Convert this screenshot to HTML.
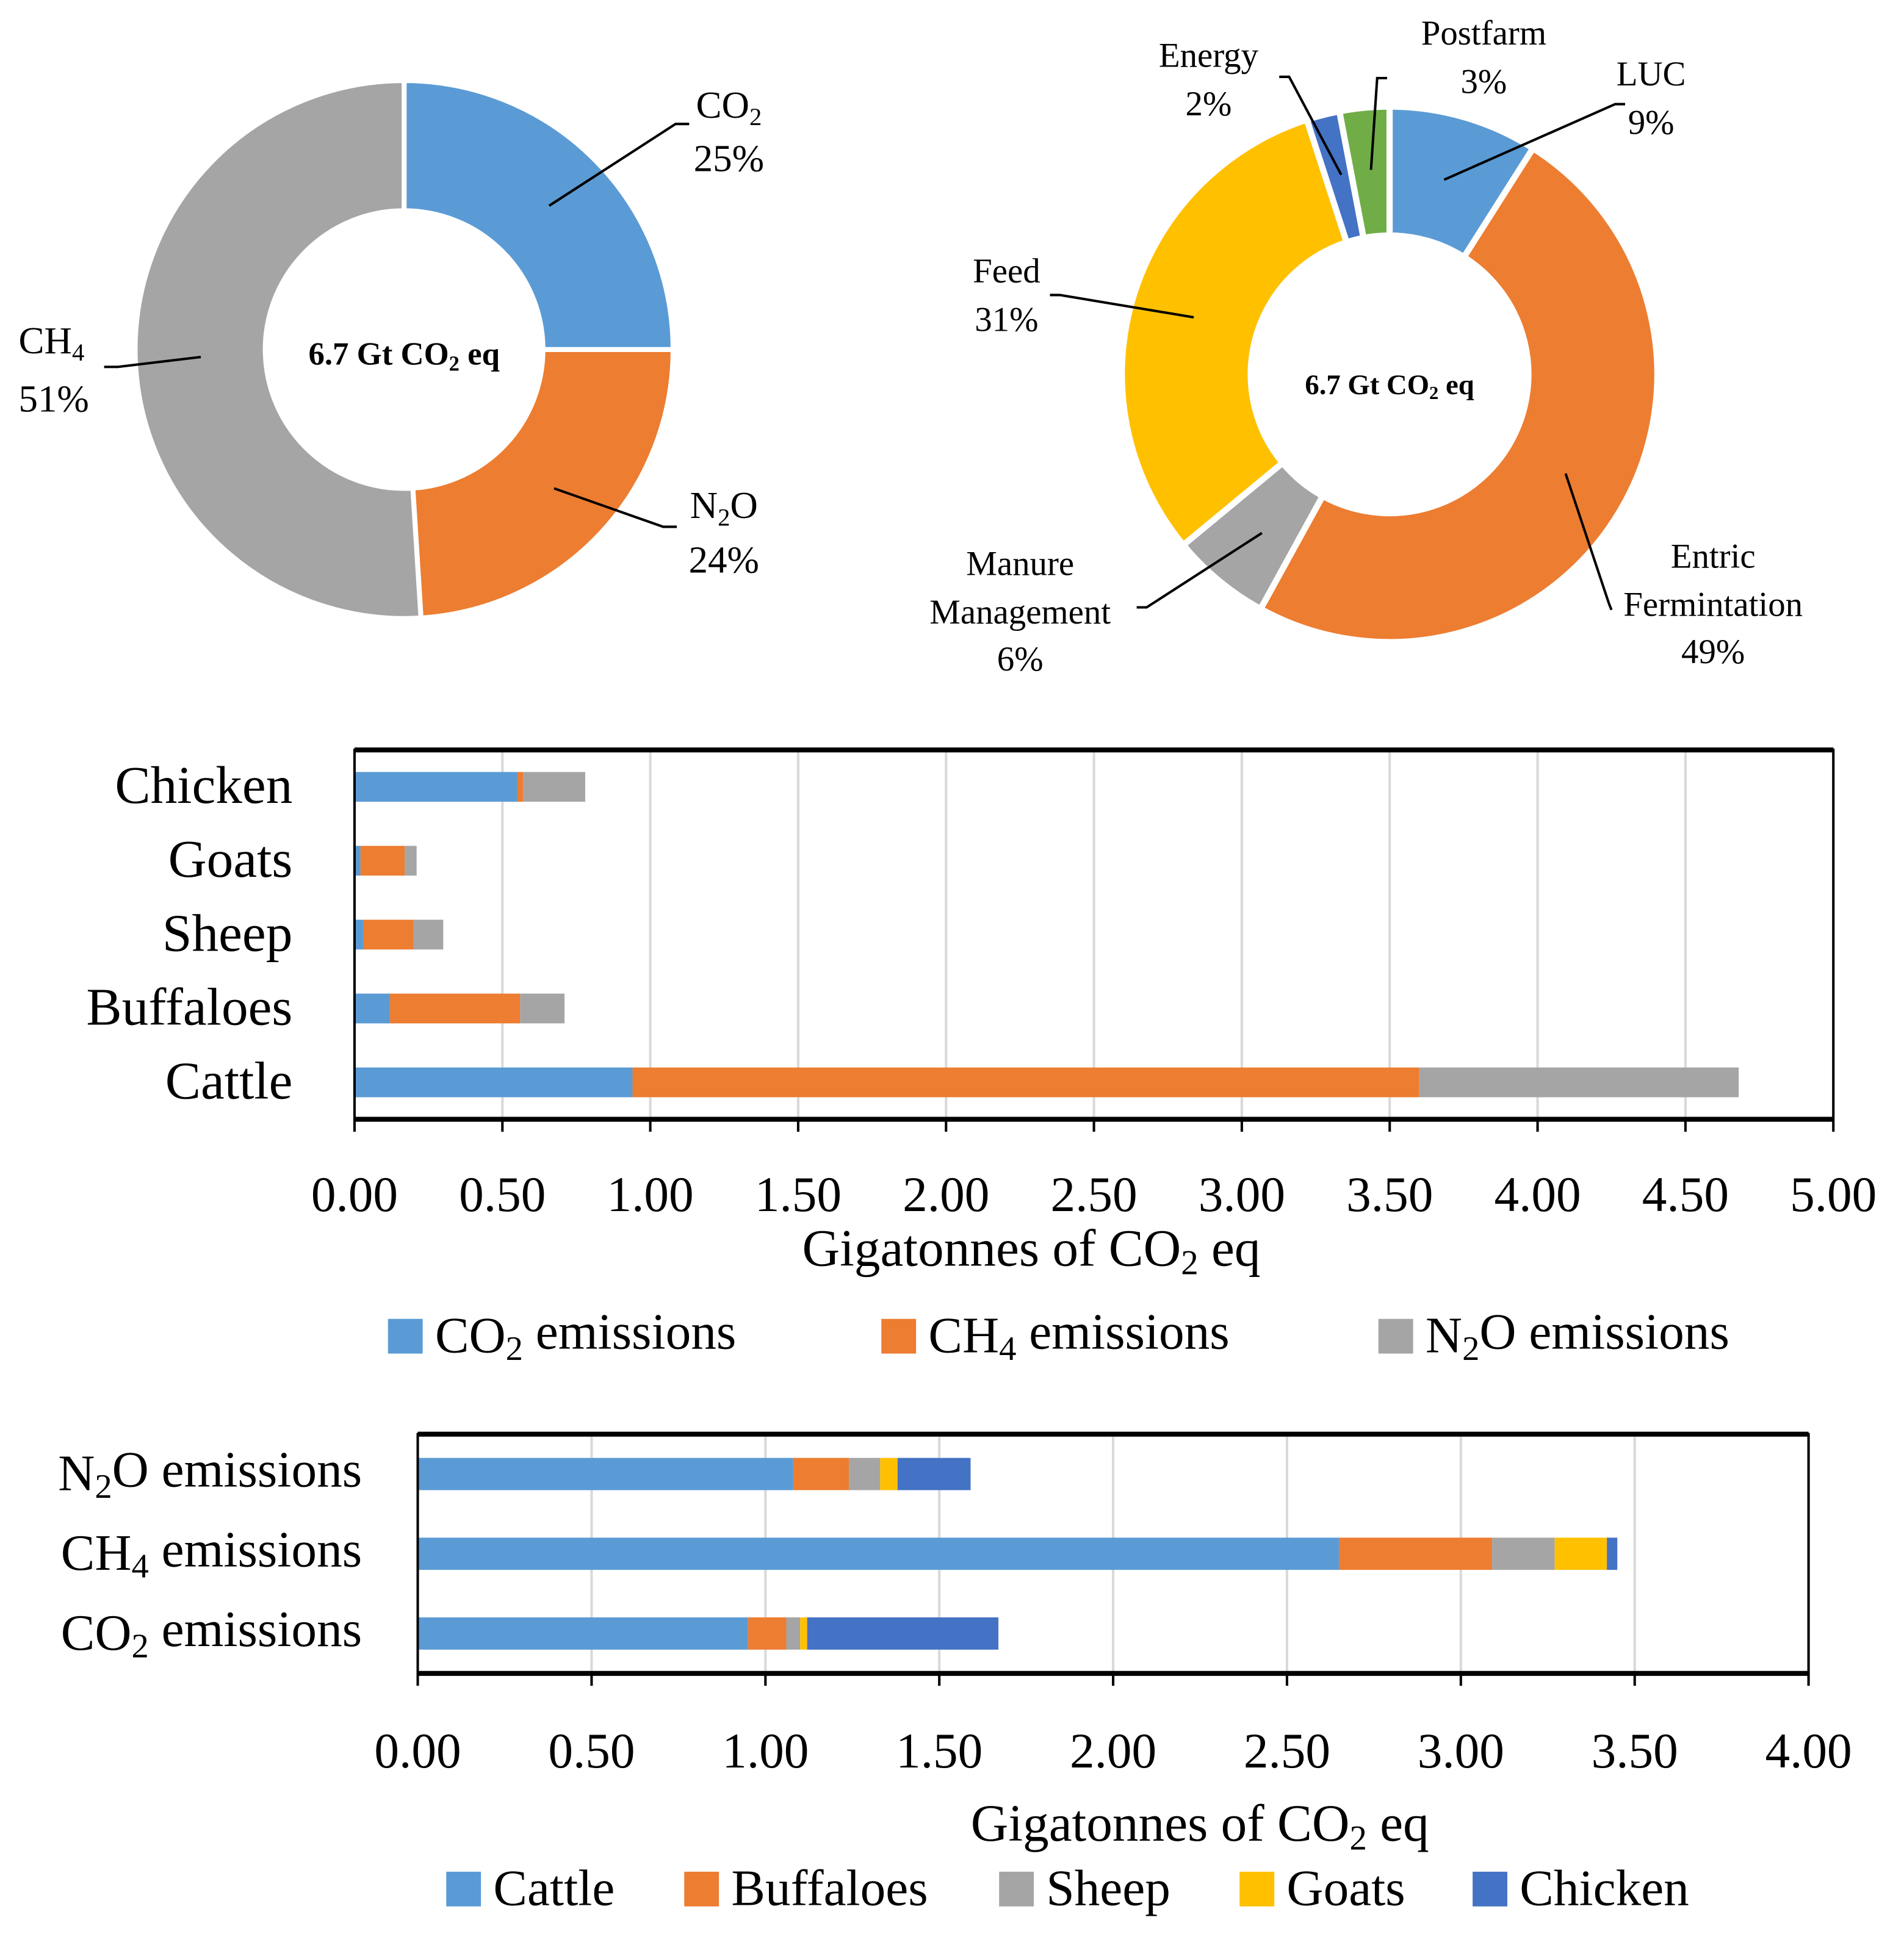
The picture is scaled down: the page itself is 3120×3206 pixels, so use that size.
<!DOCTYPE html>
<html><head><meta charset="utf-8">
<style>
html,body{margin:0;padding:0;background:#fff;}
svg{display:block;font-family:"Liberation Serif",serif;}
</style></head>
<body>
<svg id="root" width="3120" height="3206" viewBox="0 0 1536 1578" preserveAspectRatio="none" xmlns="http://www.w3.org/2000/svg">
<rect width="1536" height="1578" fill="#fff"/>
<g id="pie1"></g>
<g id="pie2"></g>
<g id="bar1"></g>
<g id="bar2"></g>

<!-- Pie 1 labels -->
<g font-size="31" fill="#000" stroke="none">
<text x="326" y="294" text-anchor="middle" font-weight="bold" font-size="26">6.7 Gt CO<tspan font-size="17" dy="5">2</tspan><tspan dy="-5"> eq</tspan></text>
<text x="588" y="95" text-anchor="middle">CO<tspan font-size="20" dy="6">2</tspan></text>
<text x="588" y="138" text-anchor="middle">25%</text>
<text x="584" y="418" text-anchor="middle">N<tspan font-size="20" dy="6">2</tspan><tspan dy="-6">O</tspan></text>
<text x="584" y="462" text-anchor="middle">24%</text>
<text x="15" y="285">CH<tspan font-size="20" dy="6">4</tspan></text>
<text x="15" y="332">51%</text>
</g>
<g stroke="#000" stroke-width="2" fill="none">
<polyline points="443,166 545,100 556,100"/>
<polyline points="447,394 535,425 546,425"/>
<polyline points="162,288 95,296 84,296"/>
</g>

<!-- Pie 2 labels -->
<g font-size="28" fill="#000">
<text x="1121" y="318" text-anchor="middle" font-weight="bold" font-size="23">6.7 Gt CO<tspan font-size="15" dy="4">2</tspan><tspan dy="-4"> eq</tspan></text>
<text x="975" y="54" text-anchor="middle">Energy</text>
<text x="975" y="93" text-anchor="middle">2%</text>
<text x="1197" y="36" text-anchor="middle">Postfarm</text>
<text x="1197" y="75" text-anchor="middle">3%</text>
<text x="1332" y="69" text-anchor="middle">LUC</text>
<text x="1332" y="108" text-anchor="middle">9%</text>
<text x="812" y="228" text-anchor="middle">Feed</text>
<text x="812" y="267" text-anchor="middle">31%</text>
<text x="823" y="464" text-anchor="middle">Manure</text>
<text x="823" y="503" text-anchor="middle">Management</text>
<text x="823" y="541" text-anchor="middle">6%</text>
<text x="1382" y="458" text-anchor="middle">Entric</text>
<text x="1382" y="497" text-anchor="middle">Fermintation</text>
<text x="1382" y="535" text-anchor="middle">49%</text>
</g>
<g stroke="#000" stroke-width="2" fill="none">
<polyline points="1082,141 1040,62 1032,62"/>
<polyline points="1106,137 1111,63 1119,63"/>
<polyline points="1165,145 1303,84 1311,84"/>
<polyline points="963,256 855,238 847,238"/>
<polyline points="1018,430 925,490 917,490"/>
<polyline points="1263,382 1298,487 1300,492"/>
</g>
</svg>
<script>
// ---------- Data ----------
const gasLabels = ["CO2", "N2O", "CH4"];
const gasShares = [25, 24, 51];
const sourceLabels = ["LUC", "Enteric Fermentation", "Manure Management", "Feed", "Energy", "Postfarm"];
const sourceShares = [9, 49, 6, 31, 2, 3];

const speciesCategories = ["Cattle", "Buffaloes", "Sheep", "Goats", "Chicken"];
const speciesCO2 = [0.94, 0.12, 0.03, 0.02, 0.55];
const speciesCH4 = [2.66, 0.44, 0.17, 0.15, 0.02];
const speciesN2O = [1.08, 0.15, 0.10, 0.04, 0.21];
const bar1Ticks = ["0.00","0.50","1.00","1.50","2.00","2.50","3.00","3.50","4.00","4.50","5.00"];

const gasCategories = ["CO2 emissions", "CH4 emissions", "N2O emissions"];
const gasCattle = [0.95, 2.65, 1.08];
const gasBuffaloes = [0.11, 0.44, 0.16];
const gasSheep = [0.04, 0.18, 0.09];
const gasGoats = [0.02, 0.15, 0.05];
const gasChicken = [0.55, 0.03, 0.21];
const bar2Ticks = ["0.00","0.50","1.00","1.50","2.00","2.50","3.00","3.50","4.00"];

const NS = "http://www.w3.org/2000/svg";
function mk(parent, tag, attrs){
  const e = document.createElementNS(NS, tag);
  for (const k in attrs) e.setAttribute(k, attrs[k]);
  parent.appendChild(e);
  return e;
}
function subLabel(t){
  const m = t.match(/^([A-Z]+?)(\d)(.*)$/);
  if (!m) return t;
  return m[1] + '<tspan font-size="0.68em" dy="0.22em">' + m[2] + '</tspan><tspan dy="-0.22em">' + m[3] + '</tspan>';
}

// ---------- Donuts ----------
function donut(g, cx, cy, ro, ri, shares, colors, gap, names){
  const total = shares.reduce((a,b)=>a+b,0);
  let acc = 0;
  shares.forEach((v,i)=>{
    const a0 = acc/total*2*Math.PI, a1 = (acc+v)/total*2*Math.PI;
    acc += v;
    const p = (r,a)=>[cx + r*Math.sin(a), cy - r*Math.cos(a)];
    const large = (a1-a0) > Math.PI ? 1 : 0;
    const [x0,y0]=p(ro,a0),[x1,y1]=p(ro,a1),[x2,y2]=p(ri,a1),[x3,y3]=p(ri,a0);
    const path = mk(g,"path",{d:`M${x0},${y0} A${ro},${ro} 0 ${large} 1 ${x1},${y1} L${x2},${y2} A${ri},${ri} 0 ${large} 0 ${x3},${y3} Z`,
      fill:colors[i], stroke:"#fff", "stroke-width":gap});
    
    
  });
}
donut(document.getElementById("pie1"), 326, 282, 217, 112, gasShares, ["#5B9BD5","#ED7D31","#A5A5A5"], 4, gasLabels);
donut(document.getElementById("pie2"), 1121, 302, 216, 112, sourceShares, ["#5B9BD5","#ED7D31","#A5A5A5","#FFC000","#4472C4","#70AD47"], 5, sourceLabels);

// ---------- Stacked bars ----------
function stacked(g, cfg){
  const {x0,x1,y0,y1,max,ticks,cats,series,colors,bh,catFont,catX,tickY,titleY,titleX,legY,legX,legNames,legFont} = cfg;
  const sx = v => x0 + v/max*(x1-x0);
  const n = cats.length, band = (y1-y0)/n;
  const cy = i => y1 - band*(i+0.5);
  ticks.forEach((t,i)=>{
    const x = sx(parseFloat(t));
    if (i>0 && i<ticks.length-1){
      const l = mk(g,"line",{x1:x,x2:x,y1:y0,y2:y1,stroke:"#d9d9d9","stroke-width":2});
      
      
    }
    const tk = mk(g,"line",{x1:x,x2:x,y1:y1,y2:y1+10,stroke:"#000","stroke-width":2});
    
    
    const tl = mk(g,"text",{x:x,y:tickY,"text-anchor":"middle","font-size":40});
    tl.textContent = t;
    
    
  });
  cats.forEach((c,i)=>{
    let acc = 0;
    series.forEach((s,j)=>{
      const r = mk(g,"rect",{x:sx(acc),y:cy(i)-bh/2,width:Math.max(0,sx(acc+s[i])-sx(acc)),height:bh,fill:colors[j]});
      
      
      acc += s[i];
    });
    const lab = mk(g,"text",{x:catX,y:cy(i)+13,"text-anchor":"end","font-size":catFont});
    lab.innerHTML = subLabel(c);
    
    
  });
  const fr = mk(g,"rect",{x:x0,y:y0,width:x1-x0,height:y1-y0,fill:"none",stroke:"#000","stroke-width":2});
  
  
  const t1 = mk(g,"line",{x1:x0,x2:x1,y1:y0,y2:y0,stroke:"#000","stroke-width":4});
  
  
  const t2 = mk(g,"line",{x1:x0,x2:x1,y1:y1,y2:y1,stroke:"#000","stroke-width":4});
  
  
  const tt = mk(g,"text",{x:titleX,y:titleY,"text-anchor":"middle","font-size":42});
  tt.innerHTML = 'Gigatonnes of CO<tspan font-size="28" dy="7">2</tspan><tspan dy="-7"> eq</tspan>';
  
  
  legNames.forEach((nm,j)=>{
    const lg = mk(g,"g",{});
    
    
    mk(lg,"rect",{x:legX[j],y:legY-14,width:28,height:28,fill:colors[j]});
    const tx = mk(lg,"text",{x:legX[j]+38,y:legY+13,"font-size":legFont});
    tx.innerHTML = subLabel(nm);
  });
}
stacked(document.getElementById("bar1"), {
  x0:286,x1:1479,y0:605,y1:903,max:5,ticks:bar1Ticks,cats:speciesCategories,
  series:[speciesCO2,speciesCH4,speciesN2O],colors:["#5B9BD5","#ED7D31","#A5A5A5"],bh:24,
  catFont:43,catX:236,tickY:977,titleX:832,titleY:1021,legY:1078,legX:[313,711,1112],
  legNames:["CO2 emissions","CH4 emissions","N2O emissions"],legFont:41
});
stacked(document.getElementById("bar2"), {
  x0:337,x1:1459,y0:1157,y1:1350,max:4,ticks:bar2Ticks,cats:gasCategories,
  series:[gasCattle,gasBuffaloes,gasSheep,gasGoats,gasChicken],colors:["#5B9BD5","#ED7D31","#A5A5A5","#FFC000","#4472C4"],bh:26,
  catFont:41,catX:292,tickY:1426,titleX:968,titleY:1485,legY:1524,legX:[360,552,806,1000,1188],
  legNames:["Cattle","Buffaloes","Sheep","Goats","Chicken"],legFont:41
});
</script>
</body></html>
